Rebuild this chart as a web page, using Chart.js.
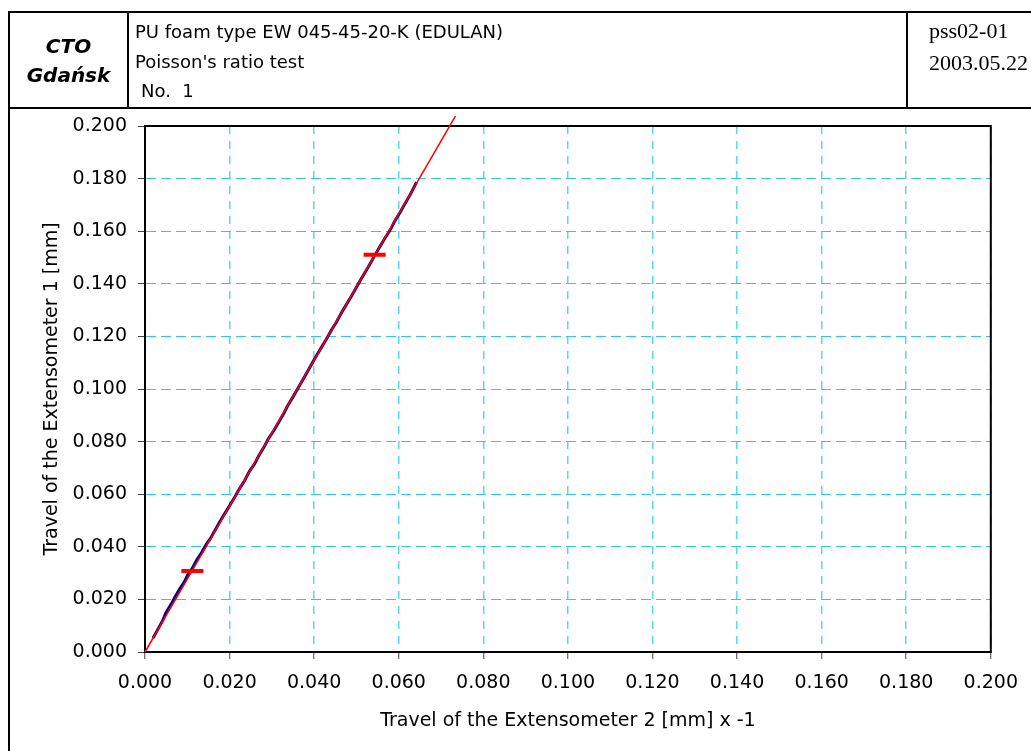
<!DOCTYPE html>
<html>
<head>
<meta charset="utf-8">
<script src="https://cdn.jsdelivr.net/npm/chart.js@4.4.0/dist/chart.umd.min.js"></script>
<style>
	body { margin: 0; width: 1031px; height: 751px; overflow: hidden; background: #fff; position: relative; }
	#myChart { position: absolute; left: 0; top: 0; }
	.ln { position: absolute; background: #000; }
	.txt { position: absolute; line-height: 1; white-space: pre; color: #000; }
	.sans { font-family: "DejaVu Sans", sans-serif; font-size: 18px; }
	.logo { font-family: "DejaVu Sans", sans-serif; font-size: 20px; font-weight: bold; font-style: italic; left: 10px; width: 117px; text-align: center; }
	.serif { font-family: "Liberation Serif", serif; font-size: 22px; left: 929px; }
</style>
</head>
<body>
<canvas id="myChart" width="1031" height="751"></canvas>

<div class="ln" style="left:8px; top:11px; width:2px; height:760px;"></div>
<div class="ln" style="left:8px; top:11px; width:1040px; height:2px;"></div>
<div class="ln" style="left:8px; top:107px; width:1040px; height:2px;"></div>
<div class="ln" style="left:127px; top:11px; width:2px; height:97px;"></div>
<div class="ln" style="left:906px; top:11px; width:2px; height:97px;"></div>

<div class="txt logo" style="top:36px;">CTO</div>
<div class="txt logo" style="top:65px;">Gdańsk</div>
<div class="txt sans" style="left:135px; top:23px;">PU foam type EW 045-45-20-K (EDULAN)</div>
<div class="txt sans" style="left:135px; top:53px;">Poisson's ratio test</div>
<div class="txt sans" style="left:141px; top:82px;">No.  1</div>
<div class="txt serif" style="top:20px;">pss02-01</div>
<div class="txt serif" style="top:52px;">2003.05.22</div>

<script>
const xTicks = [0, 0.02, 0.04, 0.06, 0.08, 0.1, 0.12, 0.14, 0.16, 0.18, 0.2];
const yTicks = [0, 0.02, 0.04, 0.06, 0.08, 0.1, 0.12, 0.14, 0.16, 0.18, 0.2];

// measured curve (extensometer 2 x -1, extensometer 1)
const curveX = [0.0019, 0.0030, 0.0042, 0.0049, 0.0062, 0.0070, 0.0083, 0.0092, 0.0103, 0.0111,
	0.0123, 0.0134, 0.0146, 0.0154, 0.0168, 0.0177, 0.0190, 0.0202, 0.0212, 0.0225,
	0.0235, 0.0247, 0.0259, 0.0269, 0.0282, 0.0291, 0.0305, 0.0315, 0.0328, 0.0337,
	0.0350, 0.0360, 0.0374, 0.0383, 0.0396, 0.0406, 0.0419, 0.0429, 0.0442, 0.0452,
	0.0465, 0.0475, 0.0488, 0.0498, 0.0511, 0.0521, 0.0534, 0.0544, 0.0557, 0.0567,
	0.0581, 0.0590, 0.0604, 0.0613, 0.0627, 0.0635, 0.0642];
const curveY = [0.0053, 0.0085, 0.0120, 0.0148, 0.0182, 0.0206, 0.0242, 0.0264, 0.0299, 0.0316,
	0.0352, 0.0378, 0.0412, 0.0430, 0.0470, 0.0495, 0.0530, 0.0562, 0.0588, 0.0625,
	0.0650, 0.0687, 0.0715, 0.0746, 0.0781, 0.0809, 0.0843, 0.0871, 0.0907, 0.0935,
	0.0970, 0.0998, 0.1037, 0.1063, 0.1100, 0.1128, 0.1163, 0.1190, 0.1227, 0.1253,
	0.1291, 0.1318, 0.1353, 0.1381, 0.1418, 0.1445, 0.1481, 0.1510, 0.1546, 0.1572,
	0.1608, 0.1637, 0.1674, 0.1700, 0.1739, 0.1763, 0.1787];

// fitted line
const fitX = [0, 0.0734];
const fitY = [0, 0.2038];

// range markers
const markX = [0.0112, 0.0543];
const markY = [0.0308, 0.1510];

const toPoints = (xs, ys) => xs.map((x, i) => ({ x: x, y: ys[i] }));

const plotFrame = {
	id: "plotFrame",
	beforeDatasetsDraw(chart) {
		const a = chart.chartArea;
		const ctx = chart.ctx;
		ctx.save();
		ctx.strokeStyle = "#000";
		ctx.lineWidth = 2;
		ctx.strokeRect(a.left, a.top, a.right - a.left, a.bottom - a.top);
		ctx.restore();
	}
};

Chart.defaults.font.family = "'DejaVu Sans', sans-serif";
Chart.defaults.color = "#000";

const ctx = document.getElementById("myChart");
new Chart(ctx, {
	type: "scatter",
	data: {
		datasets: [
			{
				data: toPoints(curveX, curveY),
				showLine: true,
				borderColor: "#000080",
				borderWidth: 3,
				pointRadius: 0,
				tension: 0,
				order: 3
			},
			{
				data: toPoints(fitX, fitY),
				showLine: true,
				borderColor: "#ff0000",
				borderWidth: 1.5,
				pointRadius: 0,
				clip: false,
				order: 2
			},
			{
				data: toPoints(markX, markY),
				pointStyle: "line",
				pointRadius: 11,
				pointBorderWidth: 4,
				pointBorderColor: "#ff0000",
				borderColor: "#ff0000",
				order: 1
			}
		]
	},
	options: {
		responsive: false,
		animation: false,
		devicePixelRatio: 1,
		events: [],
		layout: { padding: { top: 126, right: 39, bottom: 0, left: 0 } },
		plugins: { legend: { display: false }, tooltip: { enabled: false } },
		scales: {
			x: {
				type: "linear",
				min: 0,
				max: 0.2,
				afterBuildTicks: (s) => { s.ticks = xTicks.map((v) => ({ value: v })); },
				afterFit: (s) => { s.height = 99; },
				ticks: {
					callback: (v) => v.toFixed(3),
					font: { size: 19 },
					padding: 13,
					maxRotation: 0,
					autoSkip: false
				},
				grid: { color: "#5cd6f5", lineWidth: 1.5, tickColor: "#444", tickLength: 7, tickWidth: 1 },
				border: { color: "#000", width: 2, dash: [8, 7] },
				title: {
					display: true,
					text: "Travel of the Extensometer 2 [mm] x -1",
					font: { size: 19 },
					padding: { bottom: 19 }
				}
			},
			y: {
				type: "linear",
				min: 0,
				max: 0.2,
				afterBuildTicks: (s) => { s.ticks = yTicks.map((v) => ({ value: v })); },
				afterFit: (s) => { s.width = 145; },
				ticks: {
					callback: (v) => v.toFixed(3),
					font: { size: 19 },
					padding: 11,
					autoSkip: false
				},
				grid: { color: "#2ec6ec", lineWidth: 1, tickColor: "#444", tickLength: 7, tickWidth: 1 },
				border: { color: "#000", width: 2, dash: [10, 5] },
				title: {
					display: true,
					text: "Travel of the Extensometer 1 [mm]",
					font: { size: 19 },
					padding: { top: 41 }
				}
			}
		}
	},
	plugins: [plotFrame]
});
</script>
</body>
</html>
